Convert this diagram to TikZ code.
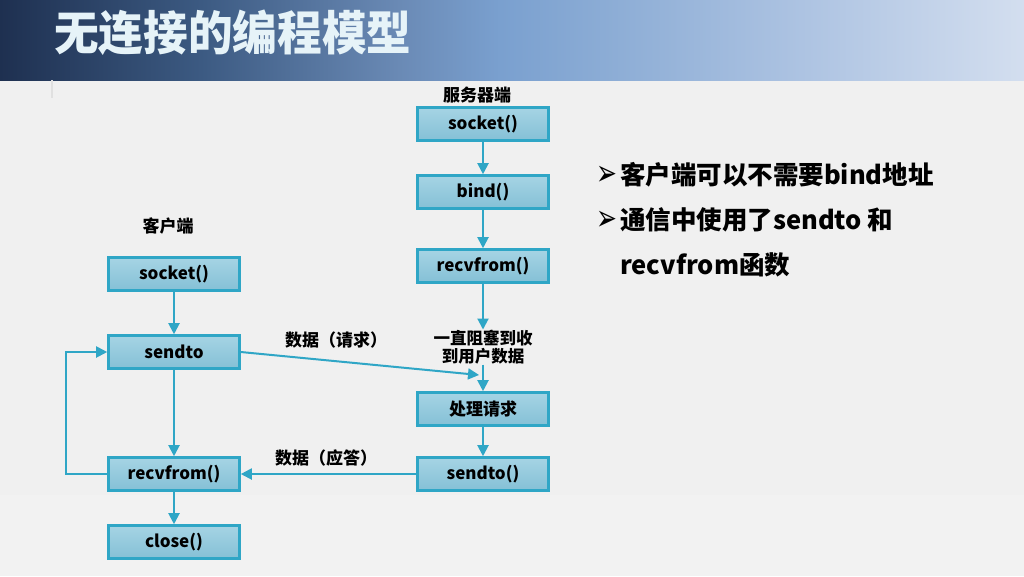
\documentclass[tikz,border=0pt]{standalone}
\usepackage{fontspec}
\setmainfont{Noto Sans CJK SC}
\newfontfamily\symfont{DejaVu Sans}
\usetikzlibrary{arrows.meta}
\definecolor{bgA}{HTML}{F0F0F0}
\definecolor{bgB}{HTML}{F2F2F2}
\definecolor{titlecol}{HTML}{E6F3F8}
\definecolor{boxline}{HTML}{2FA6C6}
\definecolor{boxtop}{HTML}{A6D4E4}
\definecolor{boxbot}{HTML}{84C0D6}
% header band colour ramp (visible part runs from 25bp to 75bp)
\pgfdeclarehorizontalshading{headerramp}{100bp}{
  rgb(0bp)=(0.118,0.188,0.314);
  rgb(25bp)=(0.118,0.188,0.314);
  rgb(34.8bp)=(0.235,0.353,0.510);
  rgb(44.5bp)=(0.416,0.541,0.710);
  rgb(49.4bp)=(0.478,0.627,0.812);
  rgb(55.3bp)=(0.557,0.682,0.839);
  rgb(64.1bp)=(0.678,0.765,0.886);
  rgb(75bp)=(0.827,0.871,0.937);
  rgb(100bp)=(0.827,0.871,0.937)}
\tikzset{
  stepbox/.style={draw=boxline, line width=2.6pt, top color=boxtop, bottom color=boxbot,
    minimum width=131pt, minimum height=33pt, inner sep=0pt,
    font=\bfseries\fontsize{17}{20}\selectfont},
  lbl/.style={font=\bfseries\fontsize{17}{19}\selectfont, inner sep=0pt, align=center},
  arr/.style={draw=boxline, line width=2pt, -{Triangle[width=11pt,length=11pt]}},
  pt/.style={font=\bfseries\fontsize{25.5}{30}\selectfont, inner sep=0pt, anchor=west},
  bullet/.style={font=\symfont\fontsize{25}{30}\selectfont, inner sep=0pt, yscale=1.45},
}
\begin{document}
\begin{tikzpicture}[x=1pt,y=-1pt]
\useasboundingbox (0,0) rectangle (1024,576);
% page background and header band
\fill[bgA] (0,80) rectangle (1024,495);
\fill[bgB] (0,495) rectangle (1024,576);
\shade[shading=headerramp] (0,0) rectangle (1024,80);
\draw[black!12, line width=1.5pt] (52,80) -- (52,98);
\node[anchor=west, text=titlecol, inner sep=0pt, xscale=0.95,
      font=\bfseries\fontsize{47}{50}\selectfont] (title) at (54,33) {无连接的编程模型};

% server side
\node[lbl] (srvhd) at (477,95) {服务器端};
\node[stepbox] (ssock) at (483,124) {socket()};
\node[stepbox] (sbind) at (483,192) {bind()};
\node[stepbox] (srecv) at (483,266) {recvfrom()};
\node[lbl, font=\bfseries\fontsize{16.5}{18.5}\selectfont] (blk) at (483,347) {一直阻塞到收\\到用户数据};
\node[stepbox] (sproc) at (483,409) {处理请求};
\node[stepbox] (ssend) at (483,474) {sendto()};

% client side
\node[lbl] (clihd) at (168,226) {客户端};
\node[stepbox] (csock) at (174,274) {socket()};
\node[stepbox] (csend) at (174,352) {sendto};
\node[stepbox] (crecv) at (174,474) {recvfrom()};
\node[stepbox] (cclose) at (174,542) {close()};

\coordinate (req) at (479,375);

% server flow
\draw[arr] (ssock) -- (sbind);
\draw[arr] (sbind) -- (srecv);
\draw[arr] (srecv) -- (blk);
\draw[arr] (blk) -- (sproc);
\draw[arr] (sproc) -- (ssend);

% client flow
\draw[arr] (csock) -- (csend);
\draw[arr] (csend) -- (crecv);
\draw[arr] (crecv) -- (cclose);
\draw[arr] (crecv.west) -- ++(-41,0) |- (csend.west);

% datagrams exchanged
\draw[arr] (csend.east) -- (req);
\node[lbl] (reqlbl) at (336,340) {数据（请求）};
\draw[arr] (ssend.west) -- (crecv.east);
\node[lbl] (replbl) at (326,458) {数据（应答）};

% notes
\node[bullet] (b1) at (607,176) {➢};
\node[pt] (t1) at (620,175) {客户端可以不需要bind地址};
\node[bullet] (b2) at (607,221) {➢};
\node[pt] (t2) at (620,220) {通信中使用了sendto 和};
\node[pt] (t3) at (620,265) {recvfrom函数};
\end{tikzpicture}
\end{document}
